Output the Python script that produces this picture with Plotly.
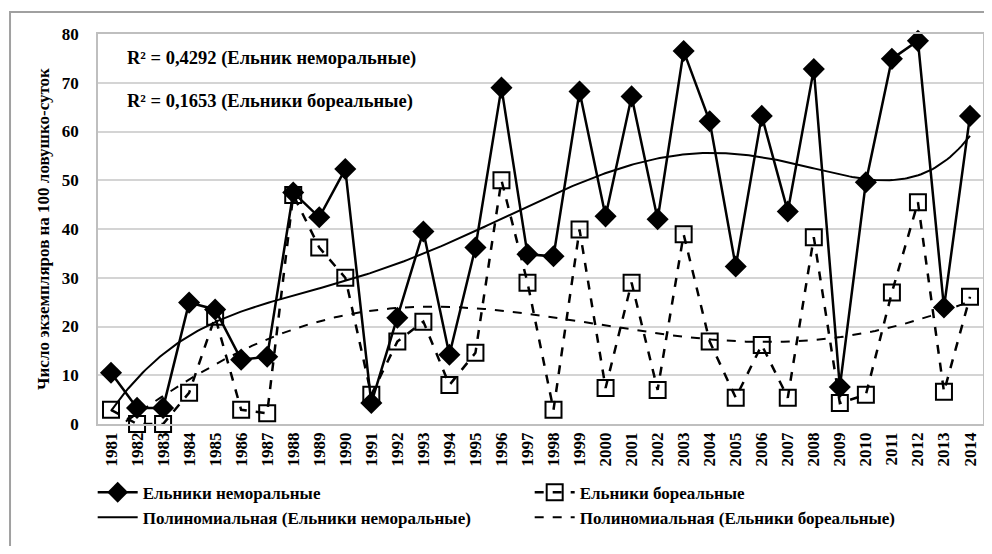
import numpy as np
import plotly.graph_objects as go

years = ["1981", "1982", "1983", "1984", "1985", "1986", "1987", "1988", "1989", "1990",
         "1991", "1992", "1993", "1994", "1995", "1996", "1997", "1998", "1999", "2000",
         "2001", "2002", "2003", "2004", "2005", "2006", "2007", "2008", "2009", "2010",
         "2011", "2012", "2013", "2014"]

nemoral = [10.5, 3.3, 3.3, 24.9, 23.5, 13.2, 13.8, 47.5, 42.4, 52.3,
           4.3, 21.8, 39.5, 14.2, 36.2, 69.0, 34.8, 34.4, 68.2, 42.6,
           67.2, 42.0, 76.5, 62.1, 32.3, 63.2, 43.6, 72.8, 7.6, 49.6,
           74.9, 78.6, 23.9, 63.2]

boreal = [2.9, 0.0, 0.0, 6.4, 22.0, 2.9, 2.2, 47.0, 36.2, 30.0,
          6.0, 16.9, 21.0, 8.0, 14.6, 50.0, 29.0, 2.9, 39.9, 7.4,
          29.0, 7.0, 38.9, 16.9, 5.4, 16.2, 5.4, 38.3, 4.3, 6.0,
          27.0, 45.5, 6.6, 26.1]

name_nem = "Ельники неморальные"
name_bor = "Ельники бореальные"
name_pnem = "Полиномиальная (Ельники неморальные)"
name_pbor = "Полиномиальная (Ельники бореальные)"
r2_labels = ["R² = 0,4292 (Ельник неморальные)", "R² = 0,1653 (Ельники бореальные)"]
y_title = "Число экземпляров на 100 ловушко-суток"

# polynomial trend lines (order 6), fitted to the series as the original trendlines are
xi = np.arange(1, len(years) + 1)
xf = np.linspace(1, len(years), 300)
xf_pos = xf - 1
trend_nem = np.polynomial.Polynomial.fit(xi, nemoral, 6)(xf)
trend_bor = np.polynomial.Polynomial.fit(xi, boreal, 6)(xf)

FONT = "Liberation Serif"

def b(s):
    return "<b>" + s + "</b>"

fig = go.Figure()
fig.add_trace(go.Scatter(x=years, y=nemoral, name=b(name_nem), mode="lines+markers",
                         cliponaxis=False,
                         line=dict(color="black", width=2.5),
                         marker=dict(symbol="diamond", size=17, color="black")))
fig.add_trace(go.Scatter(x=years, y=boreal, name=b(name_bor), mode="lines+markers",
                         cliponaxis=False,
                         line=dict(color="black", width=2.5, dash="dash"),
                         marker=dict(symbol="square-open", size=16, color="black",
                                     line=dict(width=2))))
fig.add_trace(go.Scatter(x=xf_pos, y=trend_nem, name=b(name_pnem), mode="lines",
                         xaxis="x2", line=dict(color="black", width=2)))
fig.add_trace(go.Scatter(x=xf_pos, y=trend_bor, name=b(name_pbor), mode="lines",
                         xaxis="x2", line=dict(color="black", width=2, dash="dash")))

for i, txt in enumerate(r2_labels):
    fig.add_annotation(text=b(txt), xref="paper", yref="paper",
                       x=0.0305, y=[0.936, 0.828][i], xanchor="left", yanchor="middle",
                       showarrow=False, font=dict(family=FONT, size=18.5, color="black"))

fig.add_shape(type="rect", xref="paper", yref="paper", x0=-0.0994, x1=1.05,
              y0=-0.5, y1=1.0564, line=dict(color="#a0a0a0", width=2), layer="below")

fig.update_layout(
    width=976, height=538,
    margin=dict(l=90, r=1, t=26, b=122),
    paper_bgcolor="white", plot_bgcolor="white",
    font=dict(family=FONT, color="black"),
    showlegend=True,
    legend=dict(orientation="h", x=-0.006, y=-0.13, xanchor="left", yanchor="top",
                entrywidth=382, entrywidthmode="pixels",
                font=dict(family=FONT, size=17, color="black"),
                itemwidth=40, traceorder="normal"),
    xaxis=dict(type="category", range=[-0.5, 33.5], tickangle=-90, automargin=False,
               tickfont=dict(family=FONT, size=17, color="black"),
               showgrid=False, showline=True, linecolor="#bfbfbf", linewidth=1.5,
               mirror=True, ticks="", tickprefix="<b>", ticksuffix="</b>"),
    xaxis2=dict(overlaying="x", range=[-0.5, 33.5], visible=False),
    yaxis=dict(range=[0, 80], dtick=10, tick0=0, automargin=False,
               tickfont=dict(family=FONT, size=17, color="black"),
               tickprefix="<b>", ticksuffix="</b>",
               showgrid=True, gridcolor="#d4d4d4", gridwidth=1.5,
               showline=True, linecolor="#bfbfbf", linewidth=1.5, mirror=True,
               ticks="", ticklabelstandoff=14, zeroline=False,
               title=dict(text=b(y_title), standoff=8,
                          font=dict(family=FONT, size=17, color="black"))),
)

fig.write_html("out.html")
